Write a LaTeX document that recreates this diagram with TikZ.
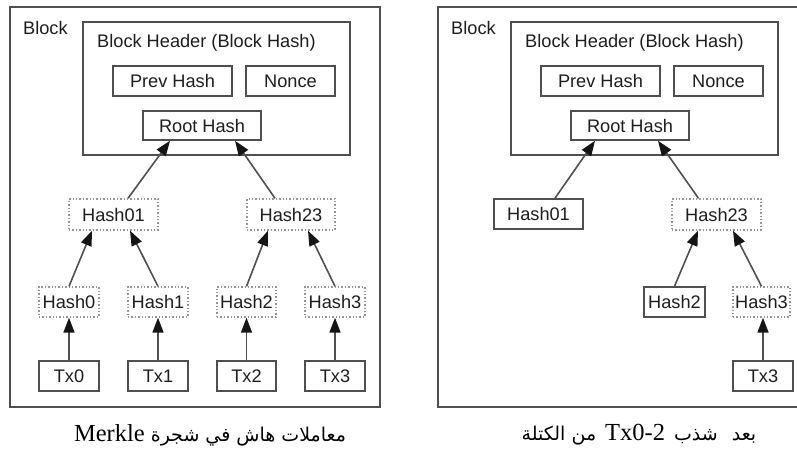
\documentclass[tikz,border=0pt]{standalone}
\usepackage{fontspec}
\setmainfont{Liberation Sans}
\newfontfamily\arabicfont[Script=Arabic]{DejaVu Sans}
\newfontfamily\latinserif{Liberation Serif}
\newcommand\captlatfont{\latinserif\fontsize{24.5}{26}\selectfont}
\TeXXeTstate=1
\usetikzlibrary{arrows.meta,calc}
\definecolor{boxc}{HTML}{4F4F4F}
\definecolor{dotc}{HTML}{959595}
\definecolor{arrc}{HTML}{505050}
\definecolor{tipc}{HTML}{151515}
\definecolor{txtc}{HTML}{1E1E1E}
\tikzset{
  lbl/.style={font=\fontsize{18.2}{21}\selectfont, text=txtc, inner sep=0pt},
  cont/.style={draw=boxc, line width=1.6pt, inner sep=0pt},
  sbox/.style={draw=boxc, line width=1.6pt, inner sep=0pt, minimum height=30pt, lbl},
  dbox/.style={draw=dotc, dotted, line width=1.4pt, inner sep=0pt, minimum height=30pt, lbl},
  arr/.style={draw=arrc, line width=1.6pt, -{Triangle[length=15pt,width=11pt,color=tipc]}},
  captxt/.style={font=\fontsize{19}{22}\selectfont\arabicfont, text=black, inner sep=0pt},
}
\begin{document}
\begin{tikzpicture}[x=1pt,y=-1pt]
\useasboundingbox (0,0) rectangle (797,450);
\fill[white] (0,0) rectangle (797,450);

% ---------- left panel ----------
\node[cont, minimum width=370pt, minimum height=400pt] (Lblock) at (195,207) {};
\node[lbl, anchor=west] (Lblocklbl) at (23,28) {Block};
\node[cont, minimum width=267pt, minimum height=133pt] (Lheader) at (216.5,88.5) {};
\node[lbl, anchor=west] (Lhtitle) at (97,43) {Block Header (Block Hash)};
\node[sbox, minimum width=119pt] (Lprev) at (172.5,81) {Prev Hash};
\node[sbox, minimum width=89pt] (Lnonce) at (290.5,81) {Nonce};
\node[sbox, minimum width=118pt, minimum height=29pt] (Lroot) at (202,125.5) {Root Hash};
\node[dbox, minimum width=89pt, minimum height=31pt] (Lh01) at (113.5,214.5) {Hash01};
\node[dbox, minimum width=88pt, minimum height=31pt] (Lh23) at (291,214.5) {Hash23};
\node[dbox, minimum width=60pt] (Lh0) at (69,302) {Hash0};
\node[dbox, minimum width=60pt] (Lh1) at (158,302) {Hash1};
\node[dbox, minimum width=59pt] (Lh2) at (246.5,302) {Hash2};
\node[dbox, minimum width=60pt] (Lh3) at (335,302) {Hash3};
\node[sbox, minimum width=60pt] (Lt0) at (69,376) {Tx0};
\node[sbox, minimum width=60pt] (Lt1) at (158,376) {Tx1};
\node[sbox, minimum width=59pt] (Lt2) at (246.5,376) {Tx2};
\node[sbox, minimum width=60pt] (Lt3) at (335,376) {Tx3};

\draw[arr] ($(Lh01.north)+(14.5,0)$) -- ($(Lroot.south)+(-32,0)$);
\draw[arr] ($(Lh23.north)+(-16,0)$) -- ($(Lroot.south)+(33,0)$);
\draw[arr] (Lh0.north) -- ($(Lh01.south)+(-21.5,0)$);
\draw[arr] (Lh1.north) -- ($(Lh01.south)+(16.5,0)$);
\draw[arr] (Lh2.north) -- ($(Lh23.south)+(-23,0)$);
\draw[arr] (Lh3.north) -- ($(Lh23.south)+(17,0)$);
\draw[arr] (Lt0) -- (Lh0);
\draw[arr] (Lt1) -- (Lh1);
\draw[arr] (Lt2) -- (Lh2);
\draw[arr] (Lt3) -- (Lh3);

\node[captxt] (Lcap) at (210,435) {\beginR معاملات هاش في شجرة \beginL{\captlatfont Merkle}\endL\endR};

% ---------- right panel ----------
\node[cont, minimum width=370pt, minimum height=400pt] (Rblock) at (623,207) {};
\node[lbl, anchor=west] (Rblocklbl) at (451,28) {Block};
\node[cont, minimum width=267pt, minimum height=133pt] (Rheader) at (644.5,88.5) {};
\node[lbl, anchor=west] (Rhtitle) at (525,43) {Block Header (Block Hash)};
\node[sbox, minimum width=119pt] (Rprev) at (600.5,81) {Prev Hash};
\node[sbox, minimum width=89pt] (Rnonce) at (718.5,81) {Nonce};
\node[sbox, minimum width=118pt, minimum height=29pt] (Rroot) at (630,125.5) {Root Hash};
\node[sbox, minimum width=89pt] (Rh01) at (538.5,214) {Hash01};
\node[dbox, minimum width=89pt, minimum height=31pt] (Rh23) at (716.5,214.5) {Hash23};
\node[sbox, minimum width=61pt] (Rh2) at (674.5,302) {Hash2};
\node[dbox, minimum width=57pt] (Rh3) at (761.5,302) {Hash3};
\node[sbox, minimum width=60pt] (Rt3) at (763,376) {Tx3};

\draw[arr] ($(Rh01.north)+(16.5,0)$) -- ($(Rroot.south)+(-35,0)$);
\draw[arr] ($(Rh23.north)+(-18,0)$) -- ($(Rroot.south)+(28,0)$);
\draw[arr] (Rh2.north) -- ($(Rh23.south)+(-18.5,0)$);
\draw[arr] (Rh3.north) -- ($(Rh23.south)+(16.5,0)$);
\draw[arr] (Rt3) -- (Rt3 |- Rh3.south);

\node[captxt] (Rcap) at (639,435) {\beginR بعد\hspace{14pt}شذب\hspace{9pt}\beginL{\captlatfont Tx0-2}\endL\hspace{9pt}من الكتلة\endR};
\end{tikzpicture}
\end{document}
